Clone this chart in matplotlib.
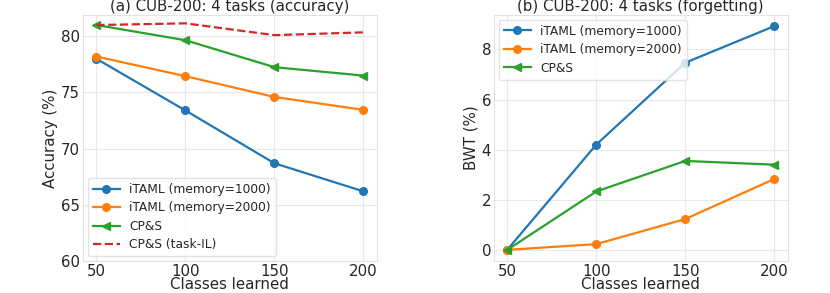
import matplotlib
matplotlib.use("Agg")
import matplotlib.pyplot as plt

classes = [50, 100, 150, 200]

# (a) accuracy
acc_itaml_1000 = [78.0, 73.4, 68.7, 66.2]
acc_itaml_2000 = [78.2, 76.45, 74.6, 73.45]
acc_cps = [81.0, 79.65, 77.25, 76.5]
acc_cps_task = [81.0, 81.15, 80.1, 80.35]

# (b) forgetting
bwt_itaml_1000 = [0.0, 4.2, 7.47, 8.93]
bwt_itaml_2000 = [0.0, 0.23, 1.23, 2.83]
bwt_cps = [0.0, 2.33, 3.55, 3.4]

txt = '#262626'
plt.rcParams['font.family'] = 'DejaVu Sans'
plt.rcParams['text.color'] = txt
plt.rcParams['axes.labelcolor'] = txt
plt.rcParams['xtick.color'] = txt
plt.rcParams['ytick.color'] = txt

fs = 10.8
lfs = 8.8
ms = 5.5
lw = 1.6

fig = plt.figure(figsize=(8.3, 2.93), dpi=100)
ax1 = fig.add_axes([0.100, 0.109, 0.354, 0.840])
ax2 = fig.add_axes([0.595, 0.109, 0.354, 0.840])

def style(ax):
   ax.grid(True, color='#e8e8e8', linewidth=0.8)
   ax.set_axisbelow(True)
   for s in ax.spines.values():
      s.set_color('#e3e3e3')
      s.set_linewidth(0.8)
   ax.tick_params(length=0, labelsize=fs, pad=2)
   ax.set_xticks(classes)
   ax.set_xlabel('Classes learned', fontsize=fs, labelpad=-1)

ax1.plot(classes, acc_itaml_1000, color='#1f77b4', marker='o', ms=ms, lw=lw, label='iTAML (memory=1000)')
ax1.plot(classes, acc_itaml_2000, color='#ff7f0e', marker='o', ms=ms, lw=lw, label='iTAML (memory=2000)')
ax1.plot(classes, acc_cps, color='#2ca02c', marker='<', ms=ms, lw=lw, label='CP&S')
ax1.plot(classes, acc_cps_task, color='#d62728', ls='--', lw=lw, label='CP&S (task-IL)')
ax1.set_ylim(bottom=60)
ax1.set_yticks([60, 65, 70, 75, 80])
style(ax1)
ax1.set_ylabel('Accuracy (%)', fontsize=fs, labelpad=2)
ax1.set_title('(a) CUB-200: 4 tasks (accuracy)', fontsize=fs, pad=3)
leg = ax1.legend(loc='lower left', fontsize=lfs, frameon=True, handlelength=2.2,
                 borderaxespad=0.4, labelspacing=0.45)
leg.get_frame().set_edgecolor('#dddddd')

ax2.plot(classes, bwt_itaml_1000, color='#1f77b4', marker='o', ms=ms, lw=lw, label='iTAML (memory=1000)')
ax2.plot(classes, bwt_itaml_2000, color='#ff7f0e', marker='o', ms=ms, lw=lw, label='iTAML (memory=2000)')
ax2.plot(classes, bwt_cps, color='#2ca02c', marker='<', ms=ms, lw=lw, label='CP&S')
ax2.set_yticks([0, 2, 4, 6, 8])
style(ax2)
ax2.set_ylabel('BWT (%)', fontsize=fs, labelpad=2)
ax2.set_title('(b) CUB-200: 4 tasks (forgetting)', fontsize=fs, pad=3)
leg = ax2.legend(loc='upper left', fontsize=lfs, frameon=True, handlelength=2.2,
                 borderaxespad=0.4, labelspacing=0.45)
leg.get_frame().set_edgecolor('#dddddd')

fig.savefig('out.png', dpi=100)
